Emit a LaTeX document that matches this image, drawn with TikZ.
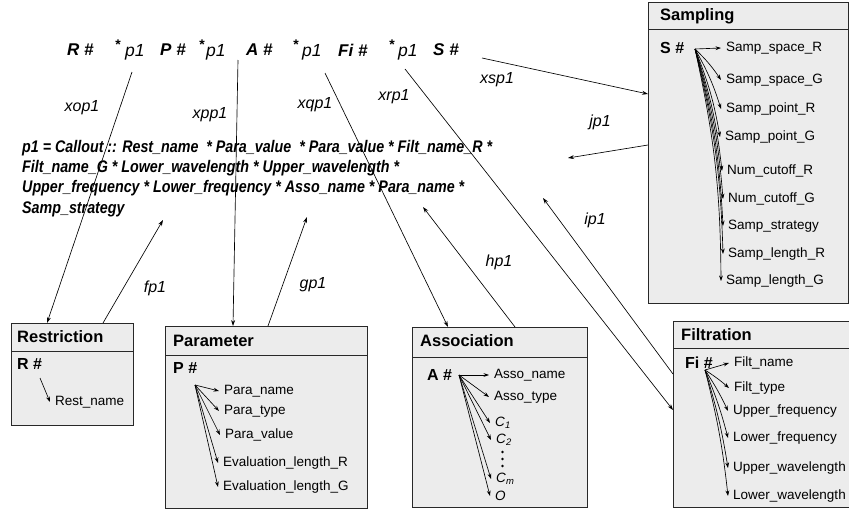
\documentclass[tikz,border=0pt]{standalone}
\usepackage{fontspec}
\setmainfont{Liberation Sans}
\usetikzlibrary{arrows.meta}
\definecolor{boxgray}{RGB}{236,236,236}
\definecolor{edgegray}{RGB}{40,40,40}
\begin{document}
\begin{tikzpicture}[x=1pt,y=-1pt,
  umlbox/.style={draw=edgegray, fill=boxgray, line width=0.9pt, anchor=north west, inner sep=0pt},
  hdr/.style={draw=edgegray, line width=0.9pt},
  titletext/.style={font=\fontsize{16.5}{18}\selectfont\bfseries, anchor=west, inner sep=0pt},
  keytext/.style={font=\fontsize{16}{18}\selectfont\bfseries, anchor=west, inner sep=0pt},
  itemtext/.style={font=\fontsize{13.5}{15}\selectfont, anchor=west, inner xsep=5pt, inner ysep=1pt},
  lbl/.style={font=\fontsize{16}{18}\selectfont\itshape, inner sep=0pt},
  topkey/.style={font=\fontsize{17}{19}\selectfont\bfseries\itshape, anchor=west, inner sep=0pt},
  topp/.style={font=\fontsize{17.5}{19}\selectfont\itshape, anchor=west, inner sep=0pt},
  topstar/.style={font=\fontsize{14}{16}\selectfont\bfseries, inner sep=0pt},
  formula/.style={font=\fontsize{16.8}{18}\selectfont\bfseries\itshape, anchor=west, inner sep=0pt},
  conn/.style={line width=0.65pt, -{Stealth[length=6pt,width=4pt]}},
  attr/.style={line width=0.65pt, -{Stealth[length=5.5pt,width=3.8pt]}},
  dotmark/.style={fill=black, draw=none},
]
\useasboundingbox (0,0) rectangle (849,522);

% ---------------- boxes ----------------
\node[umlbox, minimum width=200pt, minimum height=301pt] (sampling) at (648,2) {};
\draw[hdr] (648,29) -- (848,29);
\node[umlbox, minimum width=122pt, minimum height=102pt] (restriction) at (11,323) {};
\draw[hdr] (11,351) -- (133,351);
\node[umlbox, minimum width=202pt, minimum height=182pt] (parameter) at (165,326) {};
\draw[hdr] (165,355) -- (367,355);
\node[umlbox, minimum width=175pt, minimum height=180pt] (association) at (412,327) {};
\draw[hdr] (412,357) -- (587,357);
\node[umlbox, minimum width=200pt, minimum height=186pt] (filtration) at (673,321) {};
\draw[hdr] (673,348) -- (873,348);

% titles
\node[titletext] (tsamp) at (660,16) {Sampling};
\node[titletext] (trest) at (17,337) {Restriction};
\node[titletext] (tpara) at (173,341) {Parameter};
\node[titletext] (tasso) at (420,341) {Association};
\node[titletext] (tfilt) at (681,335) {Filtration};

% keys
\node[keytext] (skey) at (660,48) {S \#};
\node[keytext] (rkey) at (17,364) {R \#};
\node[keytext] (pkey) at (173,368) {P \#};
\node[keytext] (akey) at (427,375) {A \#};
\node[keytext] (fkey) at (685,363) {Fi \#};

\coordinate (so) at (695,49);
\coordinate (ro) at (40,378);
\coordinate (po) at (195,385);
\coordinate (ao) at (459,375);
\coordinate (fo) at (705,370);

% ---------------- Sampling attributes ----------------
\node[itemtext] (s1) at (721,48)  {Samp\_space\_R};
\node[itemtext] (s2) at (721,80)  {Samp\_space\_G};
\node[itemtext] (s3) at (721,109) {Samp\_point\_R};
\node[itemtext] (s4) at (720,137) {Samp\_point\_G};
\node[itemtext] (s5) at (722,171) {Num\_cutoff\_R};
\node[itemtext] (s6) at (723,199) {Num\_cutoff\_G};
\node[itemtext] (s7) at (723,226) {Samp\_strategy};
\node[itemtext] (s8) at (723,254) {Samp\_length\_R};
\node[itemtext] (s9) at (721,281) {Samp\_length\_G};
\draw[attr] (so) -- (s1.west);
\foreach \n in {s2,s3,s4,s5,s6,s7,s8,s9}
  \draw[attr] (so) to[bend left=6] (\n.west);

% ---------------- Restriction ----------------
\node[itemtext] (r1) at (50,402) {Rest\_name};
\draw[attr] (ro) -- (r1.west);

% ---------------- Parameter ----------------
\node[itemtext] (p1) at (219,391) {Para\_name};
\node[itemtext] (p2) at (219,411) {Para\_type};
\node[itemtext] (p3) at (220,435) {Para\_value};
\node[itemtext] (p4) at (218,463) {Evaluation\_length\_R};
\node[itemtext] (p5) at (218,487) {Evaluation\_length\_G};
\foreach \n in {p1,p2,p3,p4,p5}
  \draw[attr] (po) -- (\n.west);

% ---------------- Association ----------------
\node[itemtext] (a1) at (489,375) {Asso\_name};
\node[itemtext] (a2) at (489,397) {Asso\_type};
\node[itemtext] (a3) at (490,423) {\textit{C}\textsubscript{\textit{1}}};
\node[itemtext] (a4) at (491,440) {\textit{C}\textsubscript{\textit{2}}};
\node[itemtext] (a5) at (491,479) {\textit{C}\textsubscript{\textit{m}}};
\node[itemtext] (a6) at (490,496) {\textit{O}};
\foreach \n in {a1,a2,a3,a4,a5,a6}
  \draw[attr] (ao) -- (\n.west);
\foreach \yy in {452,459,466}
  \fill[dotmark] (502.5,\yy) circle (1.4pt);

% ---------------- Filtration ----------------
\node[itemtext] (f1) at (729,363) {Filt\_name};
\node[itemtext] (f2) at (729,388) {Filt\_type};
\node[itemtext] (f3) at (728,411) {Upper\_frequency};
\node[itemtext] (f4) at (728,438) {Lower\_frequency};
\node[itemtext] (f5) at (728,468) {Upper\_wavelength};
\node[itemtext] (f6) at (728,496) {Lower\_wavelength};
\draw[attr] (fo) -- (f1.west);
\foreach \n in {f2,f3,f4,f5,f6}
  \draw[attr] (fo) to[bend left=4] (\n.west);

% ---------------- top expression ----------------
\node[topkey] (kR) at (67,50) {R \#};
\node[topstar] (st1) at (118,45) {*};
\node[topp] (pp1) at (125,52) {p1};
\node[topkey] (kP) at (160,50) {P \#};
\node[topstar] (st2) at (202,45) {*};
\node[topp] (pp2) at (206,52) {p1};
\node[topkey] (kA) at (246,50) {A \#};
\node[topstar] (st3) at (296,45) {*};
\node[topp] (pp3) at (302,52) {p1};
\node[topkey] (kF) at (338,50) {Fi \#};
\node[topstar] (st4) at (392,45) {*};
\node[topp] (pp4) at (398,52) {p1};
\node[topkey] (kS) at (433,50) {S \#};

% ---------------- formula ----------------
\node[formula] (fl1) at (22,148) {\scalebox{0.85}[1]{p1 = Callout :: Rest\_name \ * Para\_value \ * Para\_value * Filt\_name\_R *}};
\node[formula] (fl2) at (22,168) {\scalebox{0.85}[1]{Filt\_name\_G * Lower\_wavelength * Upper\_wavelength *}};
\node[formula] (fl3) at (22,188) {\scalebox{0.85}[1]{Upper\_frequency * Lower\_frequency * Asso\_name * Para\_name *}};
\node[formula] (fl4) at (22,209) {\scalebox{0.85}[1]{Samp\_strategy}};

% ---------------- connectors ----------------
\coordinate (xoS) at (132,72);
\coordinate (xpS) at (238,60);
\coordinate (xqS) at (325,73);
\coordinate (xrS) at (405,69);
\coordinate (xsS) at (482,58);
\coordinate (fpE) at (163,220);
\coordinate (gpE) at (307,217);
\coordinate (hpE) at (423,207);
\coordinate (ipE) at (543,198);
\coordinate (jpE) at (568,158);

\draw[conn] (xoS) -- ([xshift=36pt]restriction.north west);
\draw[conn] ([xshift=92pt]restriction.north west) -- (fpE);
\draw[conn] (xpS) -- ([xshift=68pt]parameter.north west);
\draw[conn] ([xshift=103pt]parameter.north west) -- (gpE);
\draw[conn] (xqS) -- ([xshift=36pt]association.north west);
\draw[conn] ([xshift=103pt]association.north west) -- (hpE);
\draw[conn] (xrS) -- ([yshift=-89pt]filtration.north west);
\draw[conn] ([yshift=-53pt]filtration.north west) -- (ipE);
\draw[conn] (xsS) -- ([yshift=-92pt]sampling.north west);
\draw[conn] ([yshift=-143pt]sampling.north west) -- (jpE);

% labels
\node[lbl] (lxo) at (82,108) {xop1};
\node[lbl] (lxp) at (210,115) {xpp1};
\node[lbl] (lxq) at (315,105) {xqp1};
\node[lbl] (lxr) at (394,97) {xrp1};
\node[lbl] (lxs) at (497,80) {xsp1};
\node[lbl] (ljp) at (600,122) {jp1};
\node[lbl] (lip) at (595,220) {ip1};
\node[lbl] (lhp) at (499,262) {hp1};
\node[lbl] (lfp) at (155,288) {fp1};
\node[lbl] (lgp) at (313,285) {gp1};
\end{tikzpicture}
\end{document}
